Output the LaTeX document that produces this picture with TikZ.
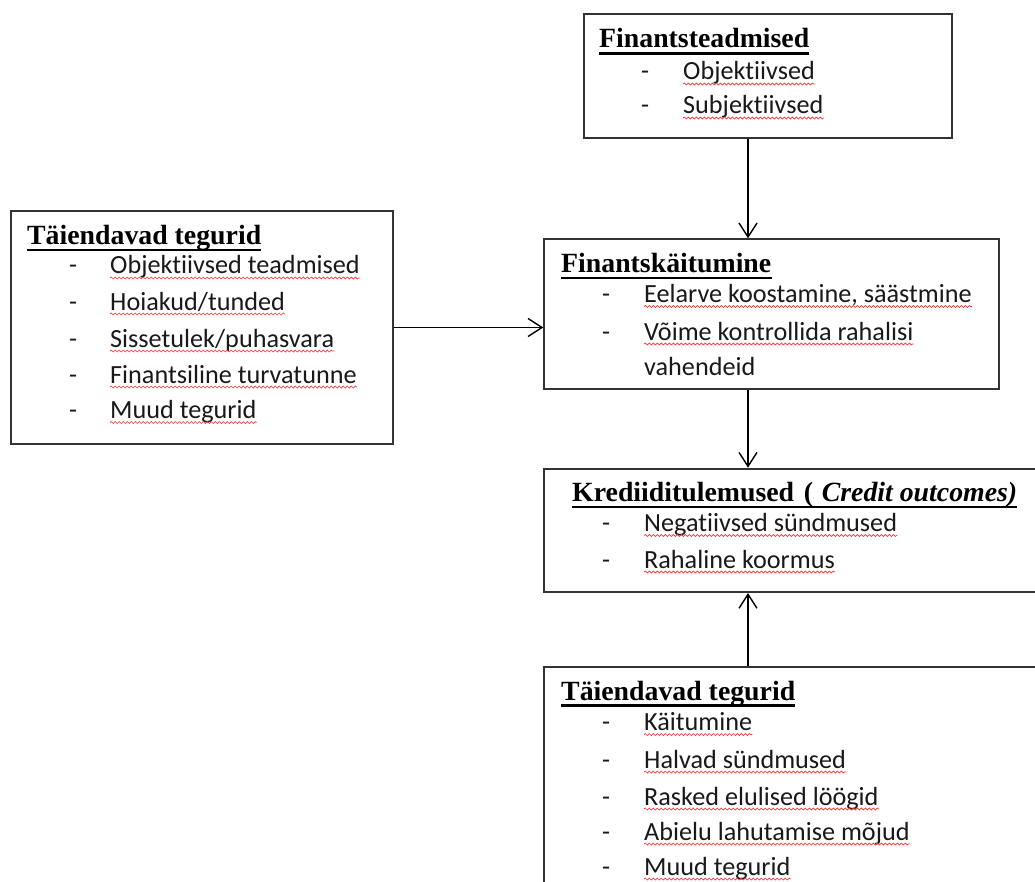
\documentclass[tikz,border=0pt]{standalone}
\usepackage{fontspec}
\setmainfont{Liberation Serif}
\newfontfamily\calfont[Ligatures=NoCommon]{Carlito}
\usetikzlibrary{arrows.meta,decorations.pathmorphing}
\newcommand{\rowitem}[5]{%
  \node[dsh] (#1d) at (#2,#4) {-};
  \node[itm] (#1) at (#3,#4) {#5};
  \draw[wavy] ([yshift=-4pt]#1.base west) -- ([yshift=-4pt]#1.base east);}
\newcommand{\ttlline}[2]{%
  \draw[ul] ([yshift=-5.5pt]#1.base west) -- ([yshift=-5.5pt]#2.base east);}
\begin{document}
\begin{tikzpicture}[x=1pt,y=-1pt,
  framebox/.style={draw=black!80, line width=2pt, inner sep=0pt, anchor=north west},
  ttl/.style={inner sep=0pt, anchor=base west, font=\bfseries\fontsize{27.8}{32}\selectfont},
  itm/.style={inner sep=0pt, anchor=base west, text=black!90, font=\calfont\fontsize{26.2}{30}\selectfont},
  dsh/.style={inner sep=0pt, anchor=base west, text=black!90, font=\calfont\fontsize{26.2}{30}\selectfont},
  ul/.style={line width=2.8pt, black},
  wavy/.style={red!80, line width=0.7pt, decorate, decoration={snake, amplitude=1pt, segment length=4pt}},
  arr/.style={line width=1.4pt, black, -{Straight Barb[length=14pt, width=18pt]}}]
\useasboundingbox (0,0) rectangle (1035,882);
\clip (0,0) rectangle (1035,882);
\fill[white] (0,0) rectangle (1035,882);

% boxes
\node[framebox, minimum width=368.5pt, minimum height=124pt] (b1) at (582.5,13) {};
\node[framebox, minimum width=382pt, minimum height=233pt] (b2) at (9.5,210) {};
\node[framebox, minimum width=454.5pt, minimum height=149.5pt] (b3) at (543.3,238.3) {};
\node[framebox, minimum width=520pt, minimum height=123.3pt] (b4) at (543.3,467.7) {};
\node[framebox, minimum width=520pt, minimum height=290pt] (b5) at (543.3,665.7) {};

\coordinate (ax) at (748,0);

% box 1
\node[ttl] (t1) at (599,48) {Finantsteadmised};
\ttlline{t1}{t1}
\rowitem{a1}{641}{683}{80}{Objektiivsed}
\rowitem{a2}{641}{683}{114}{Subjektiivsed}

% box 2
\node[ttl] (t2) at (27,244.5) {Täiendavad tegurid};
\ttlline{t2}{t2}
\rowitem{l1}{69}{110}{274}{Objektiivsed teadmised}
\rowitem{l2}{69}{110}{310}{Hoiakud/tunded}
\rowitem{l3}{69}{110}{347}{Sissetulek/puhasvara}
\rowitem{l4}{69}{110}{383}{Finantsiline turvatunne}
\rowitem{l5}{69}{110}{418.5}{Muud tegurid}

% box 3
\node[ttl] (t3) at (561,272.5) {Finantskäitumine};
\ttlline{t3}{t3}
\rowitem{c1}{602}{644}{302.5}{Eelarve koostamine, säästmine}
\rowitem{c2}{602}{644}{340}{Võime kontrollida rahalisi}
\node[itm] (c3) at (644,375) {vahendeid};

% box 4
\node[ttl] (t4) at (572,501.5) {Krediiditulemused\hspace{0.35em}(};
\node[ttl] (t4b) at (t4.base east) {\hspace{0.3em}\itshape Credit outcomes)};
\ttlline{t4}{t4b}
\rowitem{k1}{602}{644}{531.5}{Negatiivsed sündmused}
\rowitem{k2}{602}{644}{568}{Rahaline koormus}

% box 5
\node[ttl] (t5) at (561,700) {Täiendavad tegurid};
\ttlline{t5}{t5}
\rowitem{m1}{602}{644}{730.5}{Käitumine}
\rowitem{m2}{602}{644}{768}{Halvad sündmused}
\rowitem{m3}{602}{644}{805}{Rasked elulised löögid}
\rowitem{m4}{602}{644}{840}{Abielu lahutamise mõjud}
\rowitem{m5}{602}{644}{875}{Muud tegurid}

% connectors
\draw[arr] (b1.south -| ax) -- (b3.north -| ax);
\draw[arr] (b2.east) -- (b2.east -| b3.west);
\draw[arr] (b3.south -| ax) -- (b4.north -| ax);
\draw[arr] (b5.north -| ax) -- (b4.south -| ax);
\end{tikzpicture}
\end{document}
